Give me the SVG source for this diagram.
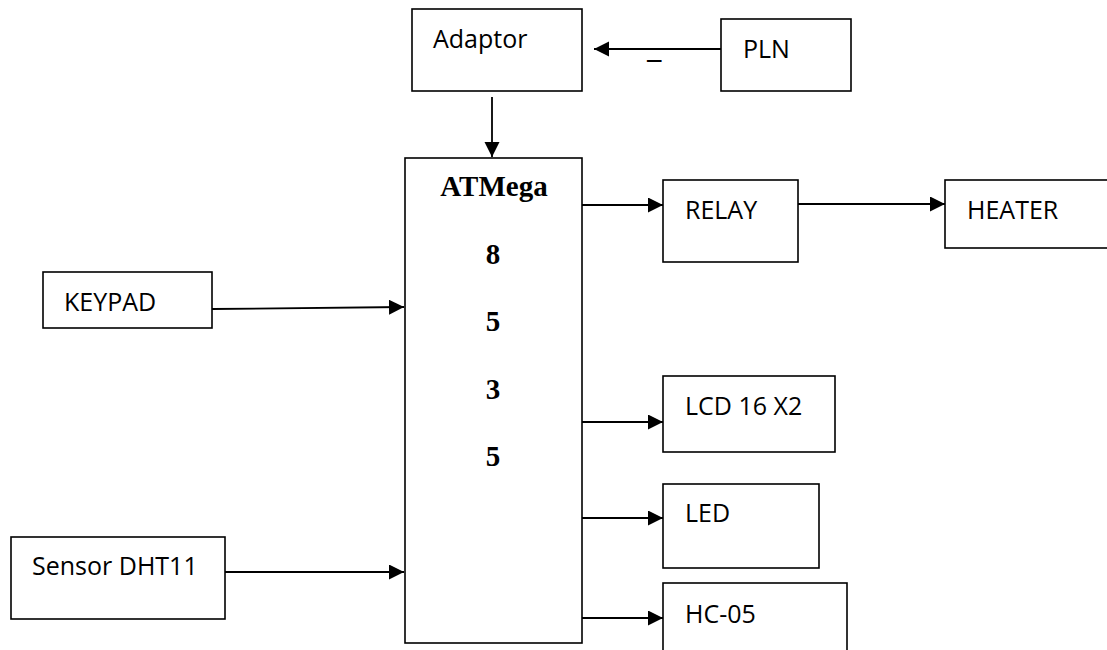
<svg xmlns="http://www.w3.org/2000/svg" width="1107" height="650" viewBox="0 0 1107 650">
<defs>
<marker id="arr" markerUnits="userSpaceOnUse" markerWidth="16" markerHeight="16" refX="15" refY="7.5" orient="auto">
<path d="M0,0 L15,7.5 L0,15 Z" fill="#000"/>
</marker>
<style>
.box{fill:#fff;stroke:#000;stroke-width:1.6}
.lbl{font-family:"Open Sans","Liberation Sans",sans-serif;font-size:25px;fill:#000}
.mcu{font-family:"Liberation Serif","Times New Roman",serif;font-weight:bold;font-size:29px;fill:#000;text-anchor:middle}
.con{stroke:#000;stroke-width:1.8;fill:none;marker-end:url(#arr)}
</style>
</defs>
<rect width="1107" height="650" fill="#fff"/>
<g id="connectors">
<line class="con" x1="721" y1="49" x2="594" y2="49"/>
<line class="con" x1="492" y1="97" x2="492" y2="157"/>
<line class="con" x1="212" y1="309" x2="404" y2="307"/>
<line class="con" x1="225" y1="572" x2="404" y2="572"/>
<line class="con" x1="582" y1="205" x2="663" y2="205"/>
<line class="con" x1="798" y1="204" x2="945" y2="204"/>
<line class="con" x1="582" y1="422" x2="663" y2="422"/>
<line class="con" x1="582" y1="518" x2="663" y2="518"/>
<line class="con" x1="582" y1="618" x2="663" y2="618"/>
<text class="lbl" x="647" y="57" style="font-size:33px">_</text>
</g>
<g id="adaptor">
<rect class="box" x="412" y="9" width="170" height="82"/>
<text class="lbl" x="433" y="48">Adaptor</text>
</g>
<g id="pln">
<rect class="box" x="721" y="19" width="130" height="72"/>
<text class="lbl" x="743" y="58">PLN</text>
</g>
<g id="atmega">
<rect class="box" x="405" y="158" width="177" height="485"/>
<text class="mcu" x="494" y="196">ATMega</text>
<text class="mcu" x="493" y="264">8</text>
<text class="mcu" x="493" y="331">5</text>
<text class="mcu" x="493" y="399">3</text>
<text class="mcu" x="493" y="466">5</text>
</g>
<g id="keypad">
<rect class="box" x="43" y="272" width="169" height="56"/>
<text class="lbl" x="64" y="311">KEYPAD</text>
</g>
<g id="sensor">
<rect class="box" x="11" y="537" width="214" height="82"/>
<text class="lbl" x="32" y="575">Sensor DHT11</text>
</g>
<g id="relay">
<rect class="box" x="663" y="180" width="135" height="82"/>
<text class="lbl" x="685" y="219">RELAY</text>
</g>
<g id="heater">
<rect class="box" x="945" y="180" width="180" height="68"/>
<text class="lbl" x="967" y="219">HEATER</text>
</g>
<g id="lcd">
<rect class="box" x="663" y="376" width="172" height="76"/>
<text class="lbl" x="685" y="415">LCD 16 X2</text>
</g>
<g id="led">
<rect class="box" x="663" y="484" width="156" height="84"/>
<text class="lbl" x="685" y="522">LED</text>
</g>
<g id="hc05">
<rect class="box" x="663" y="583" width="184" height="90"/>
<text class="lbl" x="685" y="623">HC-05</text>
</g>
</svg>
